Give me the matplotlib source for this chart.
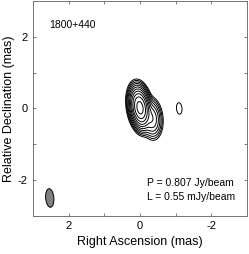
import numpy as np
import matplotlib
matplotlib.use("Agg")
import matplotlib.pyplot as plt
from matplotlib.patches import Ellipse

plt.rcParams['font.family'] = ['Liberation Sans', 'DejaVu Sans']

# source components (RA offset mas, Dec offset mas, peak Jy/beam)
comp_ra = [0.0, -0.33, -1.1]
comp_dec = [0.02, -0.28, 0.0]
comp_flux = [0.79, 0.035, 0.00075]
# size of each component as seen in the map (FWHM mas, PA deg)
comp_major = [0.50, 0.50, 0.48]
comp_minor = [0.24, 0.26, 0.23]
comp_pa = [9.0, 5.0, 5.0]

# restoring beam (mas, deg)
beam_major = 0.52
beam_minor = 0.23
beam_pa = 5.0
beam_pos = (2.53, -2.5)

# contour levels in mJy/beam (lowest level doubled)
levels_mjy = [0.55, 1.1, 2.2, 4.4, 8.8, 17.6, 35.2, 70.4, 140.8, 281.6, 563.2]

source_name = "1800+440"
peak_label = "P = 0.807 Jy/beam"
lowest_label = "L = 0.55 mJy/beam"

xs = np.linspace(-3, 3, 700)
ys = np.linspace(-3, 3, 700)
X, Y = np.meshgrid(xs, ys)

img = np.zeros_like(X)
for ra, dec, f, bmaj, bmin, pa in zip(comp_ra, comp_dec, comp_flux,
                                      comp_major, comp_minor, comp_pa):
    th = np.deg2rad(pa)
    dx = X - ra
    dy = Y - dec
    u = dx * np.sin(th) + dy * np.cos(th)
    v = dx * np.cos(th) - dy * np.sin(th)
    smaj = bmaj / 2.3548
    smin = bmin / 2.3548
    img += f * 1000 * np.exp(-0.5 * ((u / smaj) ** 2 + (v / smin) ** 2))

fig = plt.figure(figsize=(2.49, 2.54), dpi=100)
ax = fig.add_axes([0.1325, 0.15, 0.8595, 0.846])

ax.contour(X, Y, img, levels=levels_mjy, colors='k', linewidths=0.7)

beam = Ellipse(beam_pos, beam_minor, beam_major, angle=-beam_pa,
               facecolor='0.5', edgecolor='k', linewidth=0.7)
ax.add_patch(beam)

ax.text(2.55, 2.33, source_name, fontsize=7.5, va='center', ha='left')
ax.text(-0.2, -2.08, peak_label, fontsize=7.5, va='center', ha='left')
ax.text(-0.2, -2.47, lowest_label, fontsize=7.5, va='center', ha='left')

ax.set_xlim(3, -3)
ax.set_ylim(-3, 3)
ax.set_xticks([-3, -2, -1, 0, 1, 2, 3])
ax.set_xticklabels(['', '-2', '', '0', '', '2', ''])
ax.set_yticks([-3, -2, -1, 0, 1, 2, 3])
ax.set_yticklabels(['', '-2', '', '0', '', '2', ''])
ax.tick_params(direction='in', length=2.5, width=0.6, top=True, right=True,
               labelsize=8, color='0.4', pad=4)
for s in ax.spines.values():
    s.set_color('0.45')
    s.set_linewidth(0.7)

ax.set_xlabel('Right Ascension (mas)', fontsize=9, labelpad=3)
ax.set_ylabel('Relative Declination (mas)', fontsize=9, labelpad=2)

fig.savefig('out.png', dpi=100)
